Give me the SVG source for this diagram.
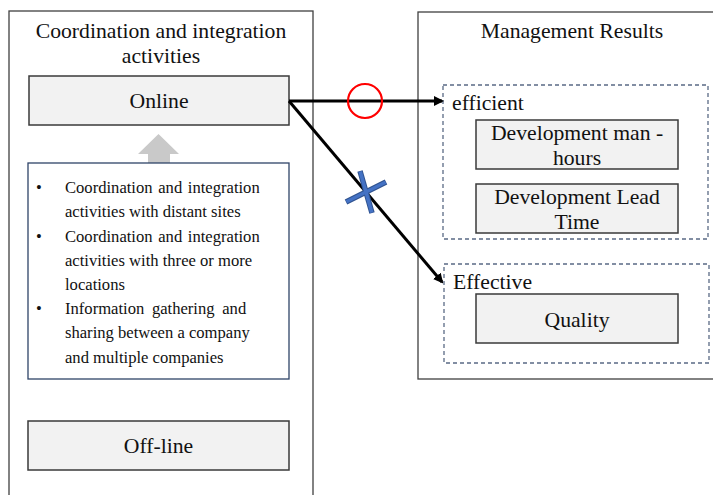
<svg xmlns="http://www.w3.org/2000/svg" width="713" height="495" viewBox="0 0 713 495">
<style>
text{font-family:'Liberation Serif','DejaVu Serif',serif;fill:#111}
.t20{font-size:21.7px}
.t15{font-size:16.6px}
.outer{fill:#fff;stroke:#404040;stroke-width:1.3}
.box{fill:#f2f2f2;stroke:#3a3a3a;stroke-width:1.5}
.dash{fill:none;stroke:#5a6a85;stroke-width:1.3;stroke-dasharray:4 3}
.conn{stroke:#000;stroke-width:3;fill:none}
.xo{stroke:#2f528f;stroke-width:5.5}
.xi{stroke:#4472c4;stroke-width:3.5}
</style>
<defs>
<marker id="ah" markerWidth="10" markerHeight="10" refX="8" refY="5" orient="auto" markerUnits="userSpaceOnUse">
<path d="M0,0 L10,5 L0,10 Z" fill="#000"/>
</marker>
</defs>
<g id="left-panel">
<rect class="outer" x="9" y="11" width="304" height="500"/>
<text class="t20" x="161" y="38" text-anchor="middle">Coordination and integration</text>
<text class="t20" x="161" y="63" text-anchor="middle">activities</text>
</g>
<g id="online">
<rect class="box" x="29" y="76" width="260" height="49"/>
<text class="t20" x="159" y="108" text-anchor="middle">Online</text>
</g>
<g id="up-arrow">
<path d="M148,163 L148,154 L138,154 L158.5,134 L179,154 L170,154 L170,163 Z" fill="#c9c9c9"/>
</g>
<g id="bullets">
<rect x="28" y="163" width="261" height="216" fill="#fff" stroke="#2f4468" stroke-width="1.3"/>
<g class="t15">
<text x="36" y="193">•</text>
<text x="65" y="193" word-spacing="1.5">Coordination and integration</text>
<text x="65" y="217">activities with distant sites</text>
<text x="36" y="242">•</text>
<text x="65" y="242" word-spacing="1.5">Coordination and integration</text>
<text x="65" y="266">activities with three or more</text>
<text x="65" y="290">locations</text>
<text x="36" y="314">•</text>
<text x="65" y="314" word-spacing="3.5">Information gathering and</text>
<text x="65" y="338">sharing between a company</text>
<text x="65" y="363">and multiple companies</text>
</g>
</g>
<g id="offline">
<rect class="box" x="28" y="421" width="261" height="49"/>
<text class="t20" x="158.5" y="453" text-anchor="middle">Off-line</text>
</g>
<g id="right-panel">
<rect class="outer" x="418" y="12" width="310" height="367"/>
<text class="t20" x="572" y="38" text-anchor="middle">Management Results</text>
</g>
<g id="efficient">
<rect class="dash" x="443" y="85" width="265" height="154"/>
<text class="t20" x="452" y="110">efficient</text>
</g>
<g id="man-hours">
<rect class="box" x="476" y="120" width="202" height="49"/>
<text class="t20" x="577" y="140" text-anchor="middle">Development man -</text>
<text class="t20" x="577" y="165" text-anchor="middle">hours</text>
</g>
<g id="lead-time">
<rect class="box" x="476" y="184" width="202" height="49"/>
<text class="t20" x="577" y="204" text-anchor="middle">Development Lead</text>
<text class="t20" x="577" y="229" text-anchor="middle">Time</text>
</g>
<g id="effective">
<rect class="dash" x="444" y="264" width="265" height="99"/>
<text class="t20" x="453" y="289">Effective</text>
</g>
<g id="quality">
<rect class="box" x="476" y="294" width="202" height="49"/>
<text class="t20" x="577" y="327" text-anchor="middle">Quality</text>
</g>
<g id="connectors">
<line class="conn" x1="289" y1="101" x2="442" y2="101" marker-end="url(#ah)"/>
<line class="conn" x1="289" y1="101" x2="442" y2="282" marker-end="url(#ah)"/>
</g>
<g id="marks">
<circle cx="365" cy="101" r="17" fill="none" stroke="#ff0000" stroke-width="2.2"/>
<line class="xo" x1="346" y1="202" x2="386" y2="182"/>
<line class="xo" x1="360" y1="171" x2="372" y2="213"/>
<line class="xi" x1="346.5" y1="201.7" x2="385.5" y2="182.3"/>
<line class="xi" x1="360.2" y1="171.5" x2="371.8" y2="212.5"/>
</g>
</svg>
